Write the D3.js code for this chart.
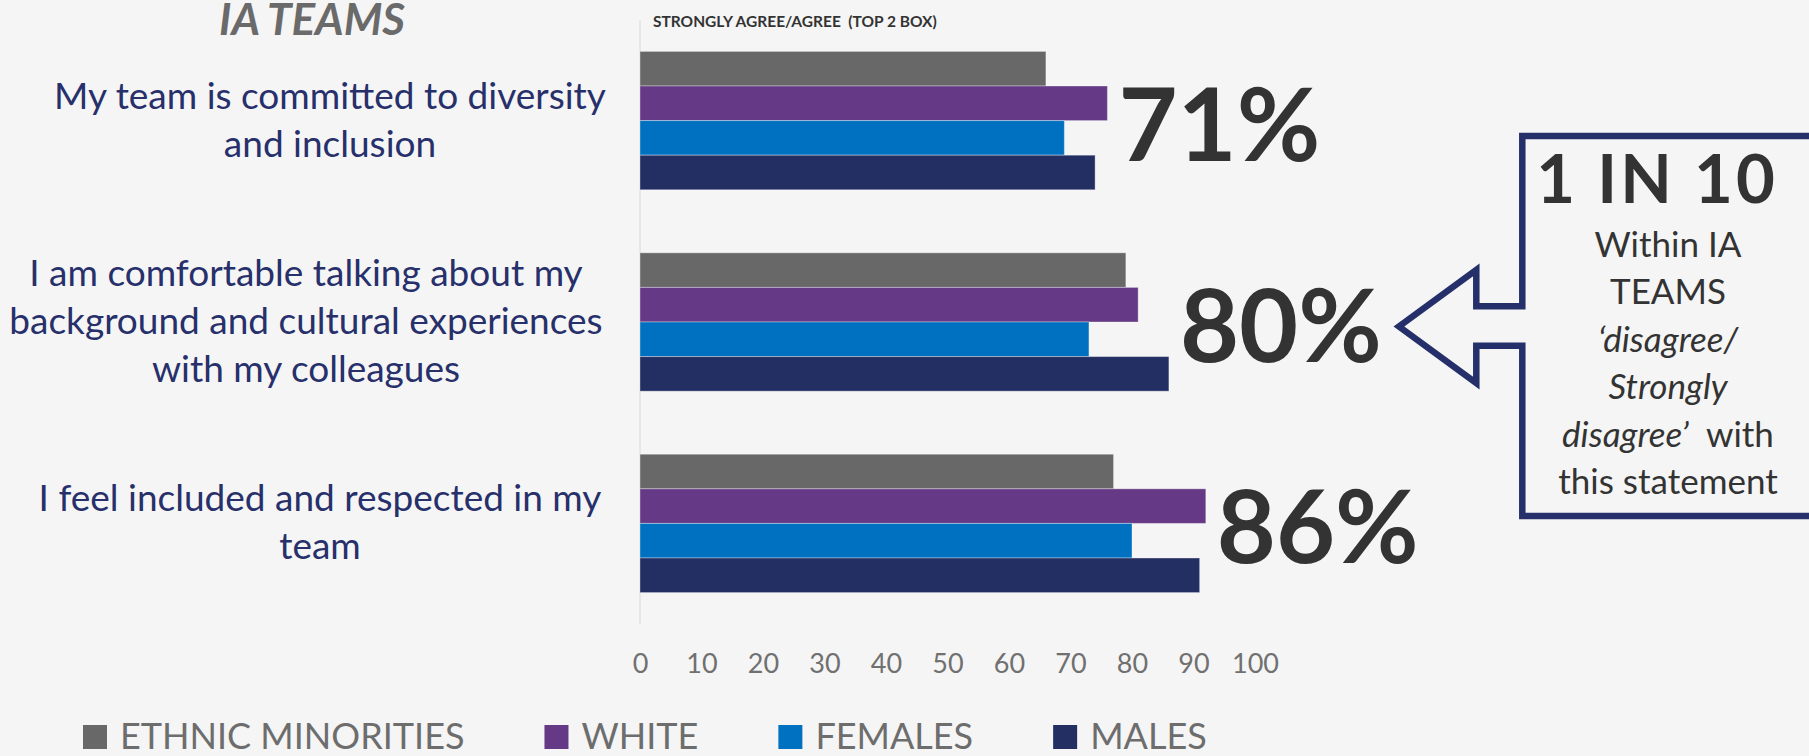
<!DOCTYPE html>
<html>
<head>
<meta charset="utf-8">
<script src="https://cdn.jsdelivr.net/npm/d3@7"></script>
<style>
  html, body { margin: 0; padding: 0; background: #f5f5f5; }
  svg { display: block; font-family: Lato, "Open Sans", sans-serif; }
</style>
</head>
<body>
<svg id="chart" width="1809" height="756"></svg>
<script>
// Survey statements (one entry per group, split into display lines)
const statements = [
  ["My team is committed to diversity", "and inclusion"],
  ["I am comfortable talking about my", "background and cultural experiences", "with my colleagues"],
  ["I feel included and respected in my", "team"]
];

// Strongly agree / agree (top 2 box) by respondent group
const seriesNames = ["ETHNIC MINORITIES", "WHITE", "FEMALES", "MALES"];
const ethnicMinorities = [66, 79, 77];
const white            = [76, 81, 92];
const females          = [69, 73, 80];
const males            = [74, 86, 91];

// Overall agreement per statement
const overallAgree = [71, 80, 86];

const xTicks = [0, 10, 20, 30, 40, 50, 60, 70, 80, 90, 100];

const pageTitle = "IA TEAMS";
const chartTitle = "STRONGLY AGREE/AGREE  (TOP 2 BOX)";
const calloutHeadline = "1 IN 10";
const calloutLines = [
  [{ t: "Within IA" }],
  [{ t: "TEAMS" }],
  [{ t: "\u2018disagree/", i: true }],
  [{ t: "Strongly", i: true }],
  [{ t: "disagree\u2019", i: true }, { t: "\u00a0 with" }],
  [{ t: "this statement" }]
];

const seriesColors = ["#686868", "#653986", "#0070c0", "#232f63"];

// ---- build rows ----
const seriesValues = [ethnicMinorities, white, females, males];
const rows = statements.map((lines, gi) => ({
  lines,
  overall: overallAgree[gi],
  values: seriesNames.map((name, si) => ({ name, si, value: seriesValues[si][gi] }))
}));

const svg = d3.select("#chart");
const W = 1809, H = 756;
svg.append("rect").attr("width", W).attr("height", H).attr("fill", "#f5f5f5");

const plot = { left: 640, right: 1255, top: 20, bottom: 624 };

const x = d3.scaleLinear().domain([0, 100]).range([plot.left, plot.right]);
const y = d3.scaleBand()
  .domain(d3.range(rows.length))
  .range([plot.top, plot.bottom])
  .paddingInner(0.313)
  .paddingOuter(0.156);
const ySub = d3.scaleBand()
  .domain(d3.range(seriesNames.length))
  .range([0, y.bandwidth()]);

// vertical category axis line
svg.append("line")
  .attr("x1", x(0)).attr("x2", x(0))
  .attr("y1", plot.top).attr("y2", plot.bottom)
  .attr("stroke", "#d9d9d9").attr("stroke-width", 1);

// bars
const groups = svg.selectAll("g.group")
  .data(rows)
  .join("g")
  .attr("class", "group")
  .attr("transform", (d, i) => `translate(0,${y(i)})`);

groups.selectAll("rect")
  .data(d => d.values)
  .join("rect")
  .attr("x", x(0))
  .attr("y", d => ySub(d.si))
  .attr("width", d => x(d.value) - x(0))
  .attr("height", ySub.bandwidth())
  .attr("fill", d => seriesColors[d.si])
  .attr("stroke", "rgba(255,255,255,0.35)")
  .attr("stroke-width", 1);

// overall percentage callouts next to each group
groups.append("text")
  .attr("x", d => x(d3.max(d.values, v => v.value)) + 11)
  .attr("y", y.bandwidth() / 2 + 40)
  .attr("font-size", 102)
  .attr("font-weight", 700)
  .attr("fill", "#333333")
  .text(d => d.overall + "%");

// statement labels on the left
const lineH = 48;
groups.append("text")
  .attr("text-anchor", "middle")
  .attr("font-size", 37)
  .attr("fill", "#27306b")
  .attr("x", (d, i) => [330, 306, 320][i])
  .selectAll("tspan")
  .data(d => d.lines.map((t, k) => ({ t, k, n: d.lines.length })))
  .join("tspan")
  .attr("x", function () { return this.parentNode.getAttribute("x"); })
  .attr("y", d => y.bandwidth() / 2 + (d.k - (d.n - 1) / 2) * lineH + 12)
  .text(d => d.t);

// x axis (labels only)
const xAxis = d3.axisBottom(x).tickValues(xTicks).tickSize(0).tickPadding(0);
const axisG = svg.append("g")
  .attr("transform", `translate(0,${plot.bottom})`)
  .call(xAxis);
axisG.select(".domain").remove();
axisG.selectAll("text")
  .attr("dy", null)
  .attr("y", 49)
  .attr("font-family", "Lato, sans-serif")
  .attr("font-size", 27)
  .attr("fill", "#707070");

// titles
svg.append("text")
  .attr("x", 219).attr("y", 35)
  .attr("font-size", 44)
  .attr("font-weight", 700)
  .attr("font-style", "italic")
  .attr("fill", "#6a6a6a")
  .text(pageTitle);

svg.append("text")
  .attr("x", 653).attr("y", 27)
  .attr("font-size", 15.5)
  .attr("font-weight", 700)
  .attr("fill", "#333333")
  .attr("xml:space", "preserve")
  .text(chartTitle);

// legend
const legend = svg.append("g").attr("transform", "translate(83,723)");
let lx = 0;
seriesNames.forEach((name, i) => {
  const item = legend.append("g").attr("transform", `translate(${lx},0)`);
  item.append("rect").attr("y", 2).attr("width", 24).attr("height", 24).attr("fill", seriesColors[i]);
  const t = item.append("text")
    .attr("x", 37).attr("y", 26)
    .attr("font-size", 36)
    .attr("fill", "#6d6d6d")
    .text(name);
  lx += 37 + t.node().getComputedTextLength() + 80;
});

// arrow callout box
const calloutPts = [
  [1900, 136], [1522.3, 136], [1522.3, 306.3], [1476.3, 306.3], [1476.3, 270],
  [1399, 326.5], [1476.3, 383], [1476.3, 345.7], [1522.3, 345.7], [1522.3, 516], [1900, 516]
];
svg.append("path")
  .attr("d", d3.line()(calloutPts))
  .attr("fill", "none")
  .attr("stroke", "#25306a")
  .attr("stroke-width", 6.5)
  .attr("stroke-linejoin", "miter");

const cx = 1668;
svg.append("text")
  .attr("x", 1657).attr("y", 203)
  .attr("text-anchor", "middle")
  .attr("font-size", 67)
  .attr("font-weight", 700)
  .attr("letter-spacing", 3)
  .attr("fill", "#333333")
  .text(calloutHeadline);

const calloutText = svg.append("text")
  .attr("text-anchor", "middle")
  .attr("font-size", 35)
  .attr("fill", "#333333");
calloutLines.forEach((segs, k) => {
  segs.forEach((s, j) => {
    const ts = calloutText.append("tspan").text(s.t)
      .attr("font-style", s.i ? "italic" : "normal");
    if (j === 0) ts.attr("x", cx).attr("y", 257 + k * 47.4);
  });
});
</script>
</body>
</html>
